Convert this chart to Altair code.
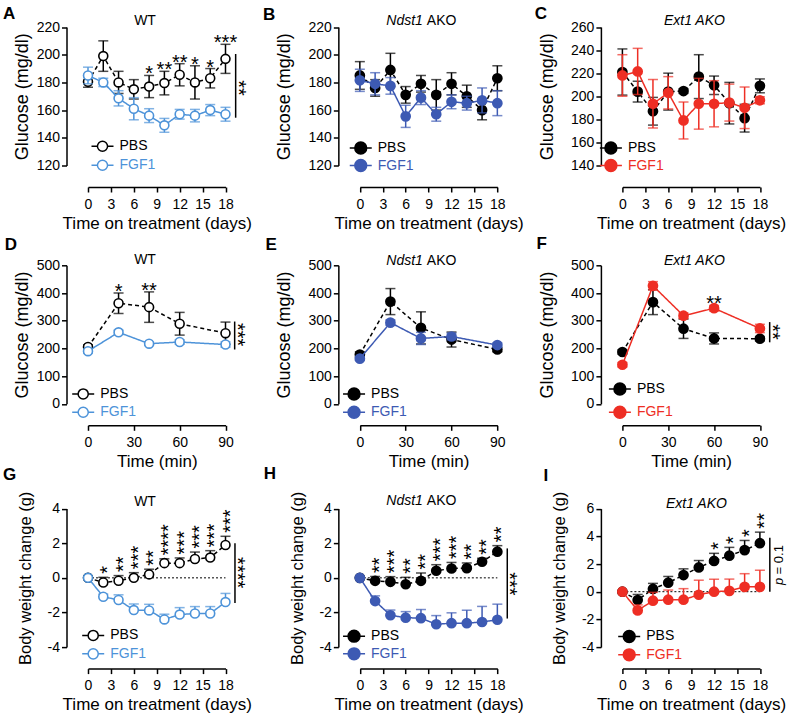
import altair as alt
import pandas as pd

FONT = "Liberation Sans"
INK = "#000000"
LIGHT_BLUE = "#4d93d9"
DARK_BLUE = "#3d5ab3"
RED = "#ee2e24"

# ---------------- data ----------------
days = [0, 2, 4, 6, 8, 10, 12, 14, 16, 18]
minutes = [0, 20, 40, 60, 90]
day_ticks = [0, 3, 6, 9, 12, 15, 18]
min_ticks = [0, 30, 60, 90]

# A: WT glucose
a_pbs = [180.5, 199, 180, 175, 177, 179.5, 185.5, 180, 183, 197]
a_pbs_err = [4, 11, 8, 7, 8, 8.5, 8, 12, 7, 10.5]
a_fgf = [185, 180, 168.5, 161, 156, 149, 157, 156, 160, 157]
a_fgf_err = [6, 3, 5.5, 8, 5, 5, 3.5, 4.5, 4, 5]
a_stars = ["", "", "", "", "*", "**", "**", "*", "*", "***"]

# B: Ndst1 AKO glucose
b_pbs = [185, 176, 189, 171, 179, 171, 179, 170, 160, 183]
b_pbs_err = [10, 6, 12, 6, 6, 11, 8, 8, 7, 9]
b_fgf = [181.5, 179, 177.5, 155.5, 169, 157, 166, 165, 167, 165]
b_fgf_err = [8, 8, 6, 8, 5, 5, 5, 5, 9, 9]

# C: Ext1 AKO glucose
c_pbs = [221, 204, 187, 204, 204.5, 217, 209.5, 194, 181, 209]
c_pbs_err = [20, 9, 12, 16, 2, 19, 8, 18, 12, 6]
c_fgf = [218, 221.5, 193.5, 203, 179, 193.5, 193.5, 194.5, 190, 196.5]
c_fgf_err = [18, 20, 21, 14, 16, 22, 20, 16, 18, 3]

# D: WT GTT
d_pbs = [205, 363, 349, 289, 255]
d_pbs_err = [8, 37, 55, 41, 40]
d_fgf = [190, 258, 217, 223, 214]
d_fgf_err = [8, 8, 6, 8, 10]
d_stars = ["", "*", "**", "", ""]

# E: Ndst1 AKO GTT
e_pbs = [178, 369, 274, 232, 196]
e_pbs_err = [10, 47, 58, 27, 8]
e_fgf = [163, 293, 236, 243, 212]
e_fgf_err = [6, 10, 22, 12, 8]

# F: Ext1 AKO GTT
f_pbs = [187, 367, 271, 236, 235]
f_pbs_err = [8, 45, 35, 20, 8]
f_fgf = [141, 426, 318, 345, 272]
f_fgf_err = [8, 15, 10, 10, 15]
f_stars = ["", "", "", "**", ""]

# G: WT body weight
g_pbs = [0, -0.27, -0.17, 0.0, 0.2, 0.85, 0.85, 1.09, 1.17, 1.9]
g_pbs_err = [0, 0.3, 0.3, 0.3, 0.3, 0.25, 0.3, 0.4, 0.4, 0.5]
g_fgf = [0, -1.09, -1.28, -1.86, -1.88, -2.4, -2.12, -2.06, -2.06, -1.4]
g_fgf_err = [0, 0.15, 0.3, 0.35, 0.35, 0.3, 0.4, 0.4, 0.4, 0.5]
g_stars = ["", "*", "**", "***", "**", "****", "***", "***", "***", "***"]

# H: Ndst1 AKO body weight
h_pbs = [0, -0.17, -0.23, -0.37, -0.17, 0.41, 0.54, 0.56, 0.93, 1.51]
h_pbs_err = [0, 0.25, 0.3, 0.4, 0.45, 0.35, 0.35, 0.3, 0.2, 0.35]
h_fgf = [0, -1.34, -2.16, -2.3, -2.33, -2.68, -2.62, -2.62, -2.55, -2.42]
h_fgf_err = [0, 0.3, 0.3, 0.35, 0.5, 0.5, 0.6, 0.75, 0.9, 0.9]
h_stars = ["", "**", "***", "**", "**", "***", "***", "**", "**", "**"]

# I: Ext1 AKO body weight
i_pbs = [0, -0.6, 0.2, 0.65, 1.2, 1.75, 2.22, 2.6, 3.0, 3.5]
i_pbs_err = [0, 0.4, 0.4, 0.45, 0.45, 0.5, 0.55, 0.6, 0.7, 0.8]
i_fgf = [0, -1.35, -0.65, -0.58, -0.58, -0.22, 0.0, 0.06, 0.35, 0.35]
i_fgf_err = [0, 0.4, 0.6, 0.7, 0.8, 1.05, 0.9, 0.85, 0.95, 1.2]
i_stars = ["", "", "", "", "", "", "*", "*", "*", "**"]

# significance brackets: x, y top, y bottom, label y, label
a_bracket = (19.33, 200.5, 154.5, 176, "**")
d_bracket = (96.0, 297, 196, 250, "***")
f_bracket = (96.4, 295, 222, 259, "**")
g_bracket = (19.24, 2.0, -1.45, 0.3, "****")
h_bracket = (19.3, 1.7, -2.35, -0.35, "***")
i_bracket = (19.3, 3.9, 0.0, 1.9, "p")

# ---------------- layout constants ----------------
PLOT_W = 137.5
PLOT_H = 138.5
GROUP_W = 142.15
GROUP_H = 141.0
AXIS_GAP = 21.5
COL_SHIFT = [0.0, 4.65, 0.0]
ROW_SHIFT = [2.5, 0.0, 2.5]
SYM = 22
LABEL_OFF = 5

GLU = "Glucose (mg/dl)"
BW = "Body weight change (g)"
TDAYS = "Time on treatment (days)"
TMIN = "Time (min)"


def sym_path(r):
    return (f"M-1,0L-{r},0M{r},0L1,0M{r},0A{r},{r},0,1,1,-{r},0"
            f"A{r},{r},0,1,1,{r},0Z")


def make_panel(col, row, spec):
    a = COL_SHIFT[col]
    b = ROW_SHIFT[row]
    xv = spec["xv"]
    xs = alt.Scale(domain=spec["xdom"], range=[a, a + PLOT_W], nice=False, zero=False)
    ys = alt.Scale(domain=spec["ydom"], range=[b + PLOT_H, b], nice=False, zero=False)
    xa = alt.Axis(values=spec["xticks"], title=spec["xtitle"],
                  offset=b + PLOT_H + AXIS_GAP - GROUP_H,
                  labelFlush=False, labelOverlap=False, grid=False,
                  labelExpr="'' + datum.value", labelPadding=5, titlePadding=4)
    ya = alt.Axis(values=spec["yticks"], title=spec["ytitle"], offset=AXIS_GAP - a,
                  labelFlush=False, labelOverlap=False, grid=False,
                  labelExpr="'' + datum.value", labelPadding=2,
                  titlePadding=spec["ytp"], titleFontSize=spec["ytfs"])

    def X(f):
        return alt.X(f, type="quantitative", scale=xs, axis=xa)

    def Y(f):
        return alt.Y(f, type="quantitative", scale=ys, axis=ya)

    layers = []

    if spec.get("zero"):
        zdf = pd.DataFrame({"x": [xv[0]], "x2": [xv[-1]], "y": [0]})
        layers.append(alt.Chart(zdf).mark_rule(strokeDash=[2, 2], strokeWidth=1, color=INK)
                      .encode(x=X("x"), x2="x2", y=Y("y")))

    upper_only = spec.get("upper_only", False)

    def series(mean, err, name, color, open_, dashed, leg_center):
        hi = [m + e for m, e in zip(mean, err)]
        lo = list(mean) if upper_only else [m - e for m, e in zip(mean, err)]
        df = pd.DataFrame({"x": xv, "m": mean, "hi": hi, "lo": lo, "s": name})
        base = alt.Chart(df)
        line = base.mark_line(color=color, strokeWidth=1.5,
                              strokeDash=[4, 3] if dashed else [1, 0]).encode(x=X("x"), y=Y("m"))
        bar = base.mark_rule(color=color, strokeWidth=1.5).encode(x=X("x"), y=Y("lo"), y2="hi")
        cap_hi = base.mark_tick(orient="horizontal", color=color, size=10, thickness=1.5).encode(
            x=X("x"), y=Y("hi"))
        parts = [line, bar, cap_hi]
        if not upper_only:
            parts.append(base.mark_tick(orient="horizontal", color=color, size=10,
                                        thickness=1.5).encode(x=X("x"), y=Y("lo")))
        legend = alt.Legend(
            orient="none", title=None,
            legendX=a + spec["leg_x"] - (SYM + 1.5 + LABEL_OFF),
            legendY=b + leg_center - (SYM + 1.5) / 2,
            padding=0, labelFont=FONT, labelFontSize=14, labelColor=color,
            labelOffset=LABEL_OFF,
            symbolType=sym_path(0.46 if open_ else 0.54), symbolSize=SYM * SYM,
            symbolStrokeColor=color, symbolFillColor="#ffffff" if open_ else color,
            symbolStrokeWidth=1.5, symbolOpacity=1)
        cscale = alt.Scale(domain=[name], range=[color])
        if open_:
            pts = base.mark_point(filled=False, fill="#ffffff", fillOpacity=1,
                                  size=80, strokeWidth=1.6, opacity=1)
        else:
            pts = base.mark_point(filled=True, size=115, opacity=1)
        pts = pts.encode(x=X("x"), y=Y("m"),
                         color=alt.Color("s:N", scale=cscale, legend=legend))
        parts.append(pts)
        return alt.layer(*parts)

    layers.append(series(spec["pbs"], spec["pbs_err"], "PBS", INK, spec["open"], True,
                         spec["leg_y"][0]))
    layers.append(series(spec["fgf"], spec["fgf_err"], "FGF1", spec["color"], spec["open"], False,
                         spec["leg_y"][1]))

    # stars over points
    if spec.get("stars"):
        mean, err = (spec["pbs"], spec["pbs_err"]) if spec["star_on"] == "pbs" else (
            spec["fgf"], spec["fgf_err"])
        sdf = pd.DataFrame({"x": xv, "y": [m + e for m, e in zip(mean, err)],
                            "t": spec["stars"]})
        sdf = sdf[sdf["t"] != ""]
        if spec.get("rot_stars"):
            st = alt.Chart(sdf).mark_text(angle=270, align="left", baseline="alphabetic",
                                          dx=3.5, dy=11, fontSize=20, color=INK)
        else:
            st = alt.Chart(sdf).mark_text(align="center", baseline="alphabetic", dy=5,
                                          fontSize=20, color=INK)
        layers.append(st.encode(x=X("x"), y=Y("y"), text="t:N"))

    # bracket
    if spec.get("bracket"):
        bx, by1, by2, ty, lab = spec["bracket"]
        bdf = pd.DataFrame({"x": [bx], "y": [by1], "y2": [by2], "ty": [ty], "t": [lab]})
        layers.append(alt.Chart(bdf).mark_rule(color=INK, strokeWidth=1.5)
                      .encode(x=X("x"), y=Y("y"), y2="y2"))
        if lab == "p":
            layers.append(alt.Chart(bdf).mark_text(angle=270, align="center", baseline="alphabetic",
                                                   dx=-16, dy=13, fontSize=13, fontStyle="italic",
                                                   color=INK)
                          .encode(x=X("x"), y=Y("ty"), text="t:N"))
            pdf = pd.DataFrame({"x": [bx], "ty": [ty], "t": ["= 0.1"]})
            layers.append(alt.Chart(pdf).mark_text(angle=270, align="left", baseline="alphabetic",
                                                   dx=-9, dy=13, fontSize=13, color=INK)
                          .encode(x=X("x"), y=Y("ty"), text="t:N"))
        else:
            layers.append(alt.Chart(bdf).mark_text(angle=90, align="center", baseline="alphabetic",
                                                   dy=4, fontSize=20, color=INK)
                          .encode(x=X("x"), y=Y("ty"), text="t:N"))

    # panel title (possibly mixed italic / roman)
    for txt, style, align, tx in spec["title"]:
        tdf = pd.DataFrame({"t": [txt]})
        layers.append(alt.Chart(tdf).mark_text(fontSize=14, fontStyle=style, align=align,
                                               baseline="alphabetic", color=INK)
                      .encode(text="t:N", x=alt.value(a + tx), y=alt.value(b + spec["title_y"])))

    # panel letter
    ltr, lx, ly = spec["letter"]
    ldf = pd.DataFrame({"t": [ltr]})
    layers.append(alt.Chart(ldf).mark_text(fontSize=17, fontWeight="bold", align="left",
                                           baseline="alphabetic", color=INK)
                  .encode(text="t:N", x=alt.value(a + lx), y=alt.value(b + ly)))

    return alt.layer(*layers).resolve_scale(color="independent").properties(
        width=GROUP_W, height=GROUP_H)


glu_ticks_a = [120, 140, 160, 180, 200, 220]
glu_ticks_c = [140, 160, 180, 200, 220, 240, 260]
gtt_ticks = [0, 100, 200, 300, 400, 500]
bw_ticks = [-4, -2, 0, 2, 4]
bw_ticks_i = [-4, -2, 0, 2, 4, 6]

WT_T = [("WT", "normal", "center", 57)]
ND_T = [("Ndst1", "italic", "right", 63), ("AKO", "normal", "left", 67)]

specs = [
    dict(xv=days, xdom=[0, 18], xticks=day_ticks, xtitle=TDAYS, ydom=[120, 220],
         yticks=glu_ticks_a, ytitle=GLU, ytp=4.5, ytfs=18,
         pbs=a_pbs, pbs_err=a_pbs_err, fgf=a_fgf, fgf_err=a_fgf_err, color=LIGHT_BLUE, open=True,
         stars=a_stars, star_on="pbs", bracket=a_bracket, title=WT_T, title_y=-1.7,
         letter=("A", -85, -7.7), leg_x=31, leg_y=(119, 138)),
    dict(xv=days, xdom=[0, 18], xticks=day_ticks, xtitle=TDAYS, ydom=[120, 220],
         yticks=glu_ticks_a, ytitle=GLU, ytp=14.5, ytfs=18,
         pbs=b_pbs, pbs_err=b_pbs_err, fgf=b_fgf, fgf_err=b_fgf_err, color=DARK_BLUE, open=False,
         title=ND_T, title_y=-2.3, letter=("B", -96.8, -6.7), leg_x=17.4, leg_y=(120.7, 138.3)),
    dict(xv=days, xdom=[0, 18], xticks=day_ticks, xtitle=TDAYS, ydom=[140, 260],
         yticks=glu_ticks_c, ytitle=GLU, ytp=14, ytfs=18,
         pbs=c_pbs, pbs_err=c_pbs_err, fgf=c_fgf, fgf_err=c_fgf_err, color=RED, open=False,
         title=[("Ext1 AKO", "italic", "center", 72)], title_y=-1.7,
         letter=("C", -87.7, -7.7), leg_x=5, leg_y=(120.7, 138.3)),
    dict(xv=minutes, xdom=[0, 90], xticks=min_ticks, xtitle=TMIN, ydom=[0, 500],
         yticks=gtt_ticks, ytitle=GLU, ytp=4.5, ytfs=18,
         pbs=d_pbs, pbs_err=d_pbs_err, fgf=d_fgf, fgf_err=d_fgf_err, color=LIGHT_BLUE, open=True,
         stars=d_stars, star_on="pbs", bracket=d_bracket, title=WT_T, title_y=-1,
         letter=("D", -83.3, -15), leg_x=11.7, leg_y=(128.4, 146.7)),
    dict(xv=minutes, xdom=[0, 90], xticks=min_ticks, xtitle=TMIN, ydom=[0, 500],
         yticks=gtt_ticks, ytitle=GLU, ytp=14.5, ytfs=18,
         pbs=e_pbs, pbs_err=e_pbs_err, fgf=e_fgf, fgf_err=e_fgf_err, color=DARK_BLUE, open=False,
         title=ND_T, title_y=0, letter=("E", -94.3, -15), leg_x=10.7, leg_y=(128.4, 146.7)),
    dict(xv=minutes, xdom=[0, 90], xticks=min_ticks, xtitle=TMIN, ydom=[0, 500],
         yticks=gtt_ticks, ytitle=GLU, ytp=14, ytfs=18,
         pbs=f_pbs, pbs_err=f_pbs_err, fgf=f_fgf, fgf_err=f_fgf_err, color=RED, open=False,
         stars=f_stars, star_on="fgf", bracket=f_bracket,
         title=[("Ext1 AKO", "italic", "center", 72)], title_y=0,
         letter=("F", -86, -16), leg_x=14, leg_y=(123.4, 146.7)),
    dict(xv=days, xdom=[0, 18], xticks=day_ticks, xtitle=TDAYS, ydom=[-4, 4],
         yticks=bw_ticks, ytitle=BW, ytp=13.5, ytfs=16.5, zero=True, upper_only=True,
         pbs=g_pbs, pbs_err=g_pbs_err, fgf=g_fgf, fgf_err=g_fgf_err, color=LIGHT_BLUE, open=True,
         stars=g_stars, star_on="pbs", rot_stars=True, bracket=g_bracket, title=WT_T,
         title_y=-2.4, letter=("G", -85, -28.4), leg_x=21.7, leg_y=(126.6, 145)),
    dict(xv=days, xdom=[0, 18], xticks=day_ticks, xtitle=TDAYS, ydom=[-4, 4],
         yticks=bw_ticks, ytitle=BW, ytp=13.5, ytfs=16.5, zero=True, upper_only=True,
         pbs=h_pbs, pbs_err=h_pbs_err, fgf=h_fgf, fgf_err=h_fgf_err, color=DARK_BLUE, open=False,
         stars=h_stars, star_on="pbs", rot_stars=True, bracket=h_bracket, title=ND_T,
         title_y=-3.4, letter=("H", -96, -30), leg_x=10.7, leg_y=(127.3, 145)),
    dict(xv=days, xdom=[0, 18], xticks=day_ticks, xtitle=TDAYS, ydom=[-4, 6],
         yticks=bw_ticks_i, ytitle=BW, ytp=13.5, ytfs=16.5, zero=True, upper_only=True,
         pbs=i_pbs, pbs_err=i_pbs_err, fgf=i_fgf, fgf_err=i_fgf_err, color=RED, open=False,
         stars=i_stars, star_on="pbs", rot_stars=True, bracket=i_bracket,
         title=[("Ext1 AKO", "italic", "center", 74)], title_y=-0.7,
         letter=("I", -79, -27.4), leg_x=23.3, leg_y=(127.6, 146)),
]

panels = [make_panel(k % 3, k // 3, s) for k, s in enumerate(specs)]

chart = alt.concat(*panels, columns=3, spacing={"row": 99.8, "column": 124.2},
                   bounds="flush").properties(
    padding={"left": 3, "top": 4.5, "right": 2, "bottom": 2}, background="white"
).configure_view(stroke=None).configure_axis(
    domainColor=INK, domainWidth=1.5, tickColor=INK, tickWidth=1.5, tickSize=5,
    labelFont=FONT, labelFontSize=14, labelColor=INK,
    titleFont=FONT, titleFontSize=17, titleFontWeight="normal", titleColor=INK
).configure_text(font=FONT).configure_legend(labelFont=FONT)

chart.save("out.html", embed_options={"renderer": "svg", "actions": False})
